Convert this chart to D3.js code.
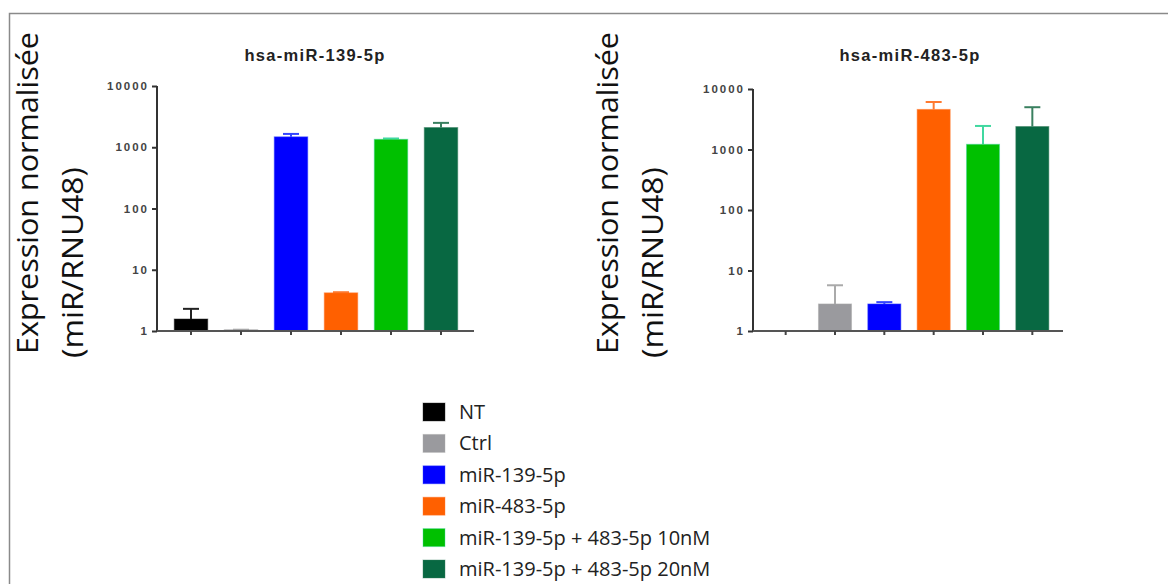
<!DOCTYPE html>
<html>
<head>
<meta charset="utf-8">
<script src="https://cdn.jsdelivr.net/npm/d3@7"></script>
<style>
  body { margin: 0; background: #fff; }
  svg { display: block; }
</style>
</head>
<body>
<svg id="main" width="1168" height="584"></svg>
<script>
var groups = ['NT', 'Ctrl', 'miR-139-5p', 'miR-483-5p', 'miR-139-5p + 483-5p 10nM', 'miR-139-5p + 483-5p 20nM']
var colors = ['#000000', '#9a9a9e', '#0000ff', '#ff6000', '#00c000', '#086842']
var errColors = ['#222222', '#aaaaaa', '#3344ff', '#ff7a30', '#40d8a0', '#3a8060']

var titles = ['hsa-miR-139-5p', 'hsa-miR-483-5p']
var means139 = [1.57, 1.05, 1480, 4.2, 1350, 2100]
var errs139 = [2.3, 1.05, 1650, 4.3, 1390, 2500]
var means483 = [null, 2.8, 2.8, 4600, 1220, 2400]
var errs483 = [null, 5.7, 3.0, 6100, 2450, 5000]
var yTicks = [1, 10, 100, 1000, 10000]

var svg = d3.select('#main')

// frame
svg.append('path')
    .attr('d', 'M9.5,584 V13.5 H1168')
    .attr('fill', 'none')
    .attr('stroke', '#8a8a8a')
    .attr('stroke-width', 1.5)

var panels = [
  { title: titles[0], means: means139, errs: errs139, ax: 157, top: 86, bottom: 331, x0: 166, x1: 466, xEnd: 474, labelX: 27, title_x: 315 },
  { title: titles[1], means: means483, errs: errs483, ax: 753, top: 89, bottom: 331, x0: 761, x1: 1057, xEnd: 1063, labelX: 607, title_x: 910 }
]

function renderPanel (p) {
  var g = svg.append('g')

  var y = d3.scaleLog().domain([1, 10000]).range([p.bottom, p.top])
  var x = d3.scaleBand().domain(groups).range([p.x0, p.x1]).paddingInner(0.33).paddingOuter(0.165)

  // y label (two lines)
  g.append('text')
      .attr('transform', `translate(${p.labelX + 11}, 354) rotate(-90)`)
      .attr('font-family', 'Open Sans')
      .attr('font-size', 29)
      .attr('textLength', 322)
      .attr('lengthAdjust', 'spacingAndGlyphs')
      .attr('fill', '#111')
      .text('Expression normalisée')
  g.append('text')
      .attr('transform', `translate(${p.labelX + 56}, 358) rotate(-90)`)
      .attr('font-family', 'Open Sans')
      .attr('font-size', 29)
      .attr('textLength', 191)
      .attr('lengthAdjust', 'spacingAndGlyphs')
      .attr('fill', '#111')
      .text('(miR/RNU48)')

  g.append('text')
      .attr('x', p.title_x)
      .attr('y', 61)
      .attr('text-anchor', 'middle')
      .attr('font-family', 'Liberation Sans')
      .attr('font-weight', 'bold')
      .attr('font-size', 16.5)
      .attr('letter-spacing', 1.3)
      .attr('fill', '#222')
      .text(p.title)

  // bars
  var data = groups.map((d, i) => ({ name: d, v: p.means[i], e: p.errs[i], c: colors[i], ec: errColors[i] }))
    .filter(d => d.v != null)

  var bars = g.selectAll('g.bar')
    .data(data)
    .enter()
    .append('g')
    .attr('class', 'bar')

  bars.append('line')
      .attr('x1', d => x(d.name) + x.bandwidth() / 2)
      .attr('x2', d => x(d.name) + x.bandwidth() / 2)
      .attr('y1', d => y(d.v))
      .attr('y2', d => y(d.e))
      .attr('stroke', d => d.ec)
      .attr('stroke-width', 2)
  bars.append('line')
      .attr('x1', d => x(d.name) + x.bandwidth() / 2 - 8)
      .attr('x2', d => x(d.name) + x.bandwidth() / 2 + 8)
      .attr('y1', d => y(d.e))
      .attr('y2', d => y(d.e))
      .attr('stroke', d => d.ec)
      .attr('stroke-width', 2)

  bars.append('rect')
      .attr('x', d => x(d.name))
      .attr('width', x.bandwidth())
      .attr('y', d => y(d.v))
      .attr('height', d => Math.max(1, y(1) - y(d.v)))
      .attr('fill', d => d.c)
      .attr('stroke', d => d.ec)
      .attr('stroke-opacity', 0.5)
      .attr('stroke-width', 1)

  // y axis
  var yAxis = d3.axisLeft(y)
      .tickValues(yTicks)
      .tickFormat(d3.format('d'))
      .tickSize(5)
      .tickPadding(3)
  var ya = g.append('g')
      .attr('transform', `translate(${p.ax}, 0)`)
      .call(yAxis)
  ya.select('.domain').attr('d', `M0,${p.top}V${p.bottom}`).attr('stroke', '#333').attr('stroke-width', 2)
  ya.selectAll('.tick line').attr('stroke', '#333').attr('stroke-width', 2)
  ya.selectAll('.tick text')
      .attr('font-family', 'Liberation Sans')
      .attr('font-weight', 'bold')
      .attr('font-size', 11.5)
      .attr('letter-spacing', 2)
      .attr('fill', '#444')

  // x axis
  var xAxis = d3.axisBottom(x).tickSize(4).tickFormat('')
  var xa = g.append('g')
      .attr('transform', `translate(0, ${p.bottom})`)
      .call(xAxis)
  xa.select('.domain').attr('d', `M${p.ax},0H${p.xEnd}`).attr('stroke', '#555').attr('stroke-width', 2)
  xa.selectAll('.tick line').attr('stroke', '#444').attr('stroke-width', 2)
}

panels.forEach(renderPanel)

// legend
var legend = svg.append('g')
    .attr('transform', 'translate(423, 403)')

var items = legend.selectAll('g')
  .data(groups)
  .enter()
  .append('g')
  .attr('transform', (d, i) => `translate(0, ${i * 31.4})`)

items.append('rect')
    .attr('width', 22)
    .attr('height', 18)
    .attr('fill', (d, i) => colors[i])
    .attr('stroke', (d, i) => errColors[i])
    .attr('stroke-opacity', 0.4)

items.append('text')
    .attr('x', 36)
    .attr('y', 16)
    .attr('font-family', 'Open Sans')
    .attr('font-size', 20)
    .attr('fill', '#222')
    .text(d => d)
</script>
</body>
</html>
